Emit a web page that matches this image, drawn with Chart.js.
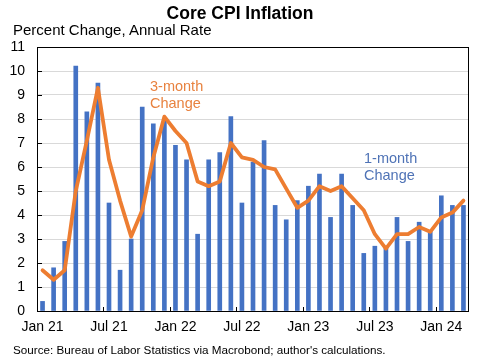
<!DOCTYPE html>
<html>
<head>
<meta charset="utf-8">
<script src="https://cdn.jsdelivr.net/npm/chart.js@4"></script>
<style>
  html, body { margin:0; padding:0; background:#fff; }
  #wrap { position:relative; width:480px; height:360px; font-family:"Liberation Sans", Arial, sans-serif; }
  #wrap canvas { position:absolute; left:0; top:0; }
  .txt { position:absolute; white-space:nowrap; line-height:1; }
  #title { left:0; width:480px; top:5px; text-align:center; font-weight:bold; font-size:17.5px; color:#000; }
  #sub { left:13px; top:22px; font-size:15px; color:#000; }
  #src { left:13px; top:344px; font-size:11.7px; color:#000; }
  .ann { font-size:14.5px; line-height:17px; }
</style>
</head>
<body>
<div id="wrap">
  <canvas id="c" width="480" height="360"></canvas>
  <div class="txt" id="title">Core CPI Inflation</div>
  <div class="txt" id="sub">Percent Change, Annual Rate</div>
  <div class="txt ann" style="left:150px;top:78px;color:#E8823F">3-month<br>Change</div>
  <div class="txt ann" style="left:364px;top:150px;color:#4F73B6">1-month<br>Change</div>
  <div class="txt" id="src">Source: Bureau of Labor Statistics via Macrobond; author's calculations.</div>
</div>
<script>
const months = [
  'Jan 21','Feb 21','Mar 21','Apr 21','May 21','Jun 21','Jul 21','Aug 21','Sep 21','Oct 21','Nov 21','Dec 21',
  'Jan 22','Feb 22','Mar 22','Apr 22','May 22','Jun 22','Jul 22','Aug 22','Sep 22','Oct 22','Nov 22','Dec 22',
  'Jan 23','Feb 23','Mar 23','Apr 23','May 23','Jun 23','Jul 23','Aug 23','Sep 23','Oct 23','Nov 23','Dec 23',
  'Jan 24','Feb 24','Mar 24'
];
// 1-month change, annualized (%)
const oneMonth = [
  0.4,1.8,2.9,10.2,8.3,9.5,4.5,1.7,3.0,8.5,7.8,7.9,
  6.9,6.3,3.2,6.3,6.6,8.1,4.5,6.2,7.1,4.4,3.8,4.6,
  5.2,5.7,3.9,5.7,4.4,2.4,2.7,2.7,3.9,2.9,3.7,3.3,
  4.8,4.4,4.4
];
// 3-month change, annualized (%)
const threeMonth = [
  1.7,1.3,1.7,5.0,7.1,9.3,6.3,4.6,3.1,4.2,6.4,8.1,
  7.5,7.0,5.4,5.2,5.4,7.0,6.4,6.3,6.0,5.9,5.1,4.3,
  4.6,5.2,5.0,5.2,4.7,4.2,3.2,2.6,3.2,3.2,3.5,3.3,
  3.9,4.1,4.6
];
const yMin = 0, yMax = 11, yStep = 1;
const labelEvery = 6;

const BLUE = '#4472C4', ORANGE = '#ED7D31';
const FONT = '"Liberation Sans", Arial, sans-serif';

const frame = {
  id:'frame',
  afterDraw(chart){
    const {ctx, chartArea:a, scales:{x, y}} = chart;
    ctx.save();
    ctx.strokeStyle = '#000';
    ctx.lineWidth = 1;
    ctx.strokeRect(Math.round(a.left)+0.5, Math.round(a.top)+0.5, Math.round(a.right-a.left)-1, Math.round(a.bottom-a.top));
    ctx.beginPath();
    // small inward tick marks at half-year boundaries
    for (let i = labelEvery; i < months.length; i += labelEvery) {
      const px = Math.round((x.getPixelForValue(i-1) + x.getPixelForValue(i)) / 2) + 0.5;
      ctx.moveTo(px, a.bottom);
      ctx.lineTo(px, a.bottom - 4);
    }
    // inward ticks on the value axis
    y.ticks.forEach(t => {
      const py = Math.round(y.getPixelForValue(t.value)) + 0.5;
      ctx.moveTo(a.left, py);
      ctx.lineTo(a.left + 5, py);
    });
    ctx.stroke();
    ctx.restore();
  }
};

new Chart(document.getElementById('c'), {
  type:'bar',
  data:{
    labels: months,
    datasets:[
      { type:'line', label:'3-month Change', data: threeMonth, borderColor: ORANGE, backgroundColor: ORANGE,
        borderWidth:3.8, pointRadius:0, tension:0, order:0, borderJoinStyle:'round', borderCapStyle:'round' },
      { type:'bar', label:'1-month Change', data: oneMonth, backgroundColor: BLUE, barThickness:4, order:1 }
    ]
  },
  options:{
    responsive:false,
    animation:false,
    layout:{ padding:{ top:47, right:11, left:0, bottom:0 } },
    plugins:{ legend:{ display:false }, tooltip:{ enabled:false } },
    scales:{
      x:{
        grid:{ display:false, drawTicks:false },
        border:{ display:false },
        ticks:{
          autoSkip:false, maxRotation:0, padding:8, color:'#000',
          font:{ family:FONT, size:14 },
          callback:(v,i)=> i % labelEvery === 0 ? months[i] : ''
        },
        afterFit(s){ s.height = 49; }
      },
      y:{
        min:yMin, max:yMax,
        grid:{ color:'#D9D9D9', drawTicks:false },
        border:{ display:false },
        ticks:{ stepSize:yStep, padding:12, color:'#000', font:{ family:FONT, size:14 } },
        afterFit(s){ s.width = 37; }
      }
    }
  },
  plugins:[frame]
});
</script>
</body>
</html>
